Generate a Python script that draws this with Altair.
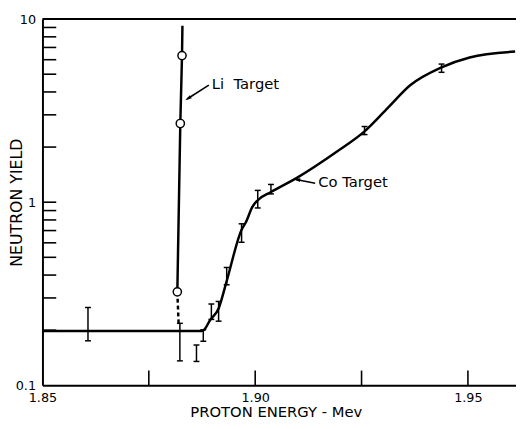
import altair as alt
import pandas as pd

# Co target smooth curve (proton energy in MeV, neutron yield)
co_energy = [1.85, 1.8875, 1.8880, 1.8894, 1.8914, 1.8933, 1.8968, 1.8979, 1.8993,
             1.9006, 1.9037, 1.9095, 1.9194, 1.9257, 1.9310, 1.9365, 1.9438, 1.9504, 1.9611]
co_yield = [0.198, 0.198, 0.201, 0.227, 0.263, 0.371, 0.707, 0.784, 0.940,
            1.025, 1.136, 1.346, 1.904, 2.438, 3.242, 4.363, 5.45, 6.17, 6.645]

# error bars
err_energy = [1.8607, 1.8823, 1.8862, 1.8878, 1.8897, 1.8914, 1.8933, 1.8968, 1.9006, 1.9037, 1.9257, 1.9438]
err_low = [0.175, 0.136, 0.135, 0.174, 0.229, 0.224, 0.354, 0.604, 0.93, 1.11, 2.34, 5.12]
err_high = [0.266, 0.218, 0.166, 0.201, 0.278, 0.287, 0.44, 0.762, 1.16, 1.25, 2.59, 5.68]

# Li target
li_energy = [1.8829, 1.8828, 1.8824, 1.8817]
li_yield = [9.2, 6.32, 2.69, 0.324]
li_circle_energy = [1.8828, 1.8824, 1.8817]
li_circle_yield = [6.32, 2.69, 0.324]
li_dash_energy = [1.8817, 1.8820]
li_dash_yield = [0.324, 0.218]

# annotations
labels = ["Li\u00a0\u00a0Target", "Co Target"]
label_energy = [1.8898, 1.9148]
label_yield = [4.42, 1.28]
li_arrow_energy = [1.8891, 1.8840]
li_arrow_yield = [4.36, 3.66]
co_arrow_energy = [1.9141, 1.9096]
co_arrow_yield = [1.27, 1.33]
arrowhead_energy = [1.8842, 1.9098]
arrowhead_yield = [3.68, 1.33]
arrowhead_angle = [238, 280]

# axis decoration
x_label_values = [1.85, 1.90, 1.95]
x_tick_values = [1.875, 1.90, 1.925, 1.95]
y_label_values = [0.1, 1, 10]
y_tick_values = [0.2, 0.3, 0.4, 0.5, 0.6, 0.7, 0.8, 0.9, 1, 2, 3, 4, 5, 6, 7, 8, 9]
x_min, x_max = 1.85, 1.9613
y_min, y_max = 0.1, 10

FONT = "DejaVu Sans"
xs = alt.Scale(domain=[x_min, x_max], nice=False, zero=False)
ys = alt.Scale(type="log", domain=[y_min, y_max], nice=False)
xaxis = alt.Axis(values=x_label_values, format=".2f", title="PROTON ENERGY - Mev", tickSize=0,
                 grid=False, domainColor="black", domainWidth=2, labelPadding=6, labelFontSize=13,
                 labelFont=FONT, titleFont=FONT, titleFontSize=15, titleFontWeight="normal",
                 titleX=237, titleY=32, titleBaseline="alphabetic", titleAlign="center",
                 labelFlush=False, labelOverlap=False, labelColor="black", titleColor="black")
yaxis = alt.Axis(values=y_label_values, format="~g", title="NEUTRON YIELD", tickSize=0,
                 grid=False, domainColor="black", domainWidth=2, labelPadding=7, labelFontSize=13,
                 labelFont=FONT, titleFont=FONT, titleFontSize=16, titleFontWeight="normal",
                 titleX=-21, titleY=186, titleAngle=270, titleBaseline="alphabetic", titleAlign="center",
                 labelFlush=False, labelOverlap=False, labelColor="black", titleColor="black")


def X(f):
    return alt.X(f, type="quantitative", scale=xs, axis=xaxis)


def Y(f):
    return alt.Y(f, type="quantitative", scale=ys, axis=yaxis)


co_df = pd.DataFrame({"x": co_energy, "y": co_yield})
err_df = pd.DataFrame({"x": err_energy, "lo": err_low, "hi": err_high})
cap_df = pd.DataFrame({"x": err_energy + err_energy, "y": err_low + err_high})
li_df = pd.DataFrame({"x": li_energy, "y": li_yield, "o": list(range(len(li_energy)))})
li_c_df = pd.DataFrame({"x": li_circle_energy, "y": li_circle_yield})
li_d_df = pd.DataFrame({"x": li_dash_energy, "y": li_dash_yield, "o": [0, 1]})
lab_df = pd.DataFrame({"x": label_energy, "y": label_yield, "t": labels})
la_df = pd.DataFrame({"x": li_arrow_energy, "y": li_arrow_yield, "o": [0, 1]})
ca_df = pd.DataFrame({"x": co_arrow_energy, "y": co_arrow_yield, "o": [0, 1]})
ah_df = pd.DataFrame({"x": arrowhead_energy, "y": arrowhead_yield, "a": arrowhead_angle})
xt_df = pd.DataFrame({"x": x_tick_values, "y": [y_min] * len(x_tick_values)})
yt_df = pd.DataFrame({"x": [x_min] * len(y_tick_values), "y": y_tick_values})
top_df = pd.DataFrame({"x": [x_min], "x2": [x_max], "y": [y_max]})

top = alt.Chart(top_df).mark_rule(color="black", strokeWidth=2).encode(
    x=X("x"), x2="x2", y=Y("y"))
xticks = alt.Chart(xt_df).mark_tick(orient="vertical", size=15, thickness=1.6, color="black",
                                    yOffset=-7.5, opacity=1).encode(x=X("x"), y=Y("y"))
yticks = alt.Chart(yt_df).mark_tick(orient="horizontal", size=14, thickness=1.6, color="black",
                                    xOffset=7, opacity=1).encode(x=X("x"), y=Y("y"))
co_line = alt.Chart(co_df).mark_line(color="black", strokeWidth=2.5, interpolate="monotone").encode(
    x=X("x"), y=Y("y"))
err = alt.Chart(err_df).mark_rule(color="black", strokeWidth=1.5).encode(
    x=X("x"), y=Y("lo"), y2="hi")
caps = alt.Chart(cap_df).mark_tick(orient="horizontal", size=6, thickness=1.5, color="black",
                                   opacity=1).encode(x=X("x"), y=Y("y"))
li_line = alt.Chart(li_df).mark_line(color="black", strokeWidth=2.5).encode(
    x=X("x"), y=Y("y"), order="o")
li_dash = alt.Chart(li_d_df).mark_line(color="black", strokeWidth=2.5, strokeDash=[4, 3]).encode(
    x=X("x"), y=Y("y"), order="o")
li_circ = alt.Chart(li_c_df).mark_point(shape="circle", size=70, filled=True, fill="white",
                                        stroke="black", strokeWidth=1.5, opacity=1).encode(
    x=X("x"), y=Y("y"))
texts = alt.Chart(lab_df).mark_text(align="left", baseline="middle", font=FONT, fontSize=15,
                                    color="black").encode(x=X("x"), y=Y("y"), text="t")
li_arrow = alt.Chart(la_df).mark_line(color="black", strokeWidth=1.6).encode(
    x=X("x"), y=Y("y"), order="o")
co_arrow = alt.Chart(ca_df).mark_line(color="black", strokeWidth=1.6).encode(
    x=X("x"), y=Y("y"), order="o")
heads = alt.Chart(ah_df).mark_point(shape="M0,-1L0.55,1L-0.55,1Z", size=45, filled=True,
                                    color="black", opacity=1).encode(
    x=X("x"), y=Y("y"), angle=alt.Angle("a", scale=None))

chart = alt.layer(top, xticks, yticks, co_line, err, caps, li_line, li_dash, li_circ,
                  li_arrow, co_arrow, heads, texts).properties(
    width=481, height=372,
    autosize=alt.AutoSizeParams(type="none"),
    padding={"left": 35, "top": 8, "right": 0, "bottom": 33},
    background="white",
).configure_view(stroke=None)

chart.save("out.html", embed_options={"renderer": "svg", "actions": False})
